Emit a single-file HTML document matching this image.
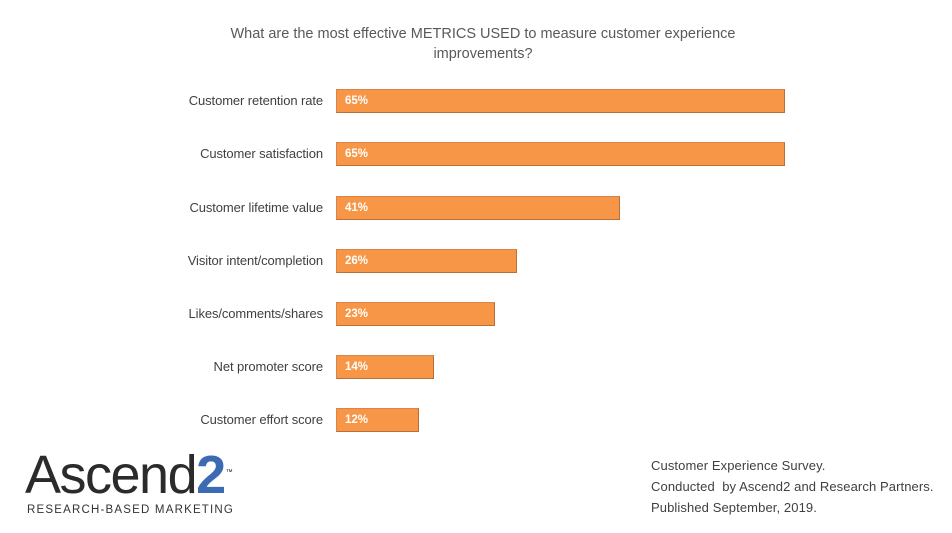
<!DOCTYPE html>
<html><head><style>
body{margin:0;width:952px;height:533px;background:#fff;font-family:"Liberation Sans",sans-serif;position:relative;overflow:hidden}
.t{position:absolute;left:0;width:966px;text-align:center;top:24px;font-size:14.5px;color:#595959;line-height:20px}
.l{position:absolute;right:629px;font-size:13px;color:#404040;white-space:nowrap;letter-spacing:-0.1px}
.b{position:absolute;left:336px;height:24px;background:#f79646;border:1px solid #b87038;border-top-color:#d9844a;border-left-color:#d9844a;box-sizing:border-box}
.b span{position:absolute;left:8px;top:5px;font-size:11.5px;font-weight:bold;color:#fff}
.f{position:absolute;left:651px;top:455px;font-size:13px;color:#404040;line-height:21px;letter-spacing:0.1px}
</style></head><body>
<div class="t">What are the most effective METRICS USED to measure customer experience<br>improvements?</div>

<div class="l" style="top:93px">Customer retention rate</div>
<div class="b" style="top:89px;width:449px"><span>65%</span></div>
<div class="l" style="top:146px">Customer satisfaction</div>
<div class="b" style="top:142px;width:449px"><span>65%</span></div>
<div class="l" style="top:200px">Customer lifetime value</div>
<div class="b" style="top:196px;width:284px"><span>41%</span></div>
<div class="l" style="top:253px">Visitor intent/completion</div>
<div class="b" style="top:249px;width:181px"><span>26%</span></div>
<div class="l" style="top:306px">Likes/comments/shares</div>
<div class="b" style="top:302px;width:159px"><span>23%</span></div>
<div class="l" style="top:359px">Net promoter score</div>
<div class="b" style="top:355px;width:98px"><span>14%</span></div>
<div class="l" style="top:412px">Customer effort score</div>
<div class="b" style="top:408px;width:83px"><span>12%</span></div>

<div style="position:absolute;left:25px;top:448px;font-family:'Liberation Sans',sans-serif;font-size:54px;line-height:54px;color:#2b2b2b;letter-spacing:-1.5px">Ascend<span style="color:#3d6bb3;font-weight:bold">2</span><span style="font-size:7px;letter-spacing:0;vertical-align:top;position:relative;top:-2px;left:1px">™</span></div>
<div style="position:absolute;left:27px;top:504px;font-size:11.5px;letter-spacing:1.2px;color:#333">RESEARCH-BASED MARKETING</div>

<div class="f">Customer Experience Survey.<br>Conducted &nbsp;by Ascend2 and Research Partners.<br>Published September, 2019.</div>
</body></html>
